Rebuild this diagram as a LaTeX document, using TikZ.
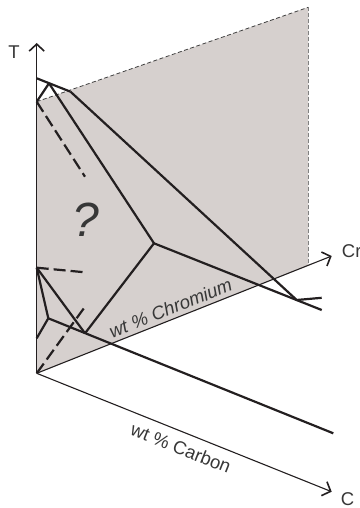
\documentclass[tikz,border=0pt]{standalone}
\usepackage{fontspec}
\setmainfont{Liberation Sans}
\usetikzlibrary{arrows.meta}
\definecolor{planefill}{RGB}{214,208,206}
\definecolor{ink}{RGB}{35,31,32}
\definecolor{txt}{RGB}{55,55,55}
\begin{document}
\begin{tikzpicture}[x=1pt,y=-1pt,
  thickline/.style={ink, line width=2.2pt},
  dashthick/.style={ink, line width=2.2pt, dash pattern=on 12pt off 5pt},
  axisline/.style={ink, line width=1.1pt, -{Straight Barb[length=7pt,width=15pt,line width=1.6pt]}},
  lbl/.style={txt, inner sep=0pt, font=\fontsize{18.5}{20}\selectfont}
]
\useasboundingbox (0,0) rectangle (359,508);
% key points
\coordinate (O) at (36.7,373.3);
\coordinate (Tt) at (36.7,43);
\coordinate (Crt) at (331.7,256);
\coordinate (Ct) at (331.7,491.7);
\coordinate (PC) at (36.7,101.7);
\coordinate (PTR) at (308.3,7.3);
\coordinate (PBR) at (308.3,265.3);
% plane
\fill[planefill] (O) -- (PC) -- (PTR) -- (PBR) -- cycle;
\draw[black!75, line width=0.8pt, dash pattern=on 4pt off 2.5pt] (PC) -- (PTR);
\draw[black!50, line width=0.9pt, dash pattern=on 4pt off 2pt] (PTR) -- (PBR);
% axes
\draw[axisline] (O) -- (Tt);
\draw[axisline] (O) -- (Crt);
\draw[axisline] (O) -- (Ct);
\node[lbl] (tl) at (14,52.5) {T};
\node[lbl, anchor=west] (crl) at (341.7,251.5) {Cr};
\node[lbl] (cl) at (347.5,499.2) {C};
\node[lbl, rotate=21.7] (crlab) at (170.5,308) {\itshape wt \% Chromium};
\node[lbl, rotate=-21.8] (clab) at (181,448) {wt \% Carbon};
\node[txt, inner sep=0pt, font=\fontsize{48}{50}\selectfont\itshape] (q) at (86.3,220) {?};
% phase lines
\coordinate (A) at (36.7,78.3);
\coordinate (P) at (49,83.3);
\coordinate (C) at (70.5,91.7);
\coordinate (Q) at (154,243.3);
\coordinate (R) at (296.7,300);
\coordinate (S) at (321.7,310);
\coordinate (U) at (321.7,297.8);
\coordinate (E) at (85,333.3);
\coordinate (D) at (36.7,267.7);
\coordinate (K) at (48.3,318.3);
\coordinate (K2) at (36.7,338.3);
\coordinate (L) at (333.3,433.3);
\draw[thickline] (A) -- (C);
\draw[thickline] (P) -- (PC);
\draw[thickline] (P) -- (Q);
\draw[thickline] (C) -- (R);
\draw[thickline] (Q) -- (S);
\draw[thickline] (R) -- (U);
\draw[thickline] (Q) -- (E);
\draw[thickline] (D) -- (E);
\draw[thickline] (D) -- (K);
\draw[thickline] (K) -- (K2);
\draw[thickline] (K) -- (L);
\draw[dashthick] (PC) -- (85,176.7);
\draw[dashthick] (D) -- (85,272.3);
\draw[dashthick] (O) -- (85,306.7);
\end{tikzpicture}
\end{document}
